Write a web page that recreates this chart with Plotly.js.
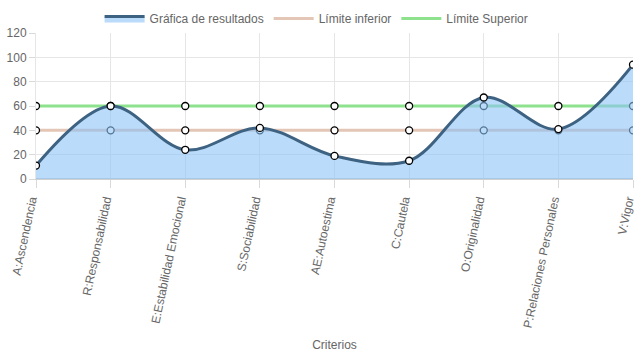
<!DOCTYPE html>
<html><head><meta charset="utf-8">
<script src="https://cdn.plot.ly/plotly-3.0.1.min.js"></script>
<style>body{margin:0;padding:0;background:#fff}#chart{width:637px;height:359px}</style>
</head><body><div id="chart"></div>
<script>
var categories = ["A:Ascendencia","R:Responsabilidad","E:Estabilidad Emocional","S:Sociabilidad","AE:Autoestima","C:Cautela","O:Originalidad","P:Relaciones Personales","V:Vigor"];
var resultados = [11, 60, 24, 42, 19, 15, 67, 41, 94];
var limiteInferior = [40, 40, 40, 40, 40, 40, 40, 40, 40];
var limiteSuperior = [60, 60, 60, 60, 60, 60, 60, 60, 60];
var yTicks = [0, 20, 40, 60, 80, 100, 120];

var mk = {color:'#ffffff', size:7, line:{color:'#000000', width:1.3}};
var traces = [
  {x:categories, y:limiteInferior, name:'Límite inferior', type:'scatter', mode:'lines+markers',
   line:{color:'#e3c6b6', width:3}, marker:mk, showlegend:false},
  {x:categories, y:limiteSuperior, name:'Límite Superior', type:'scatter', mode:'lines+markers',
   line:{color:'#8ee28e', width:3}, marker:mk, showlegend:false},
  {x:categories, y:resultados, name:'Gráfica de resultados', type:'scatter', mode:'lines+markers',
   line:{color:'#3d6282', width:3, shape:'spline', smoothing:1}, fill:'tozeroy',
   fillcolor:'rgba(140,195,245,0.6)', marker:mk, showlegend:false},
  // legend entries
  {x:[null], y:[null], name:'Gráfica de resultados', type:'scatter', mode:'lines',
   line:{color:'#3d6282', width:3}, fill:'tozeroy', fillcolor:'rgba(140,195,245,0.6)', legendrank:1},
  {x:[null], y:[null], name:'Límite inferior', type:'scatter', mode:'lines',
   line:{color:'#e3c6b6', width:3}, legendrank:2},
  {x:[null], y:[null], name:'Límite Superior', type:'scatter', mode:'lines',
   line:{color:'#8ee28e', width:3}, legendrank:3}
];
var layout = {
  width:637, height:359,
  margin:{l:36, r:4, t:31, b:180},
  paper_bgcolor:'#fff', plot_bgcolor:'#fff',
  font:{family:'Liberation Sans, Arial, sans-serif', size:12, color:'#666'},
  showlegend:true,
  legend:{orientation:'h', x:0.47, xanchor:'center', y:1.0, yanchor:'bottom', font:{size:12,color:'#666'}, itemwidth:40},
  xaxis:{type:'category', range:[0,8], tickangle:-78, ticklabelshift:-5, showgrid:true, gridcolor:'#e6e6e6',
    ticks:'outside', ticklen:8, tickcolor:'#d9d9d9', showline:true, linecolor:'#d0d0d0', linewidth:1,
    title:{text:'Criterios', font:{size:12,color:'#666'}, standoff:12}, zeroline:false, automargin:false},
  yaxis:{range:[0,120], tickvals:yTicks, showgrid:true, gridcolor:'#e6e6e6', ticks:'outside', ticklen:6,
    tickcolor:'#d9d9d9', zeroline:true, zerolinecolor:'#cfcfcf', zerolinewidth:2, showline:true, linecolor:'#e6e6e6', automargin:false}
};
Plotly.newPlot('chart', traces, layout, {displayModeBar:false});
</script></body></html>
